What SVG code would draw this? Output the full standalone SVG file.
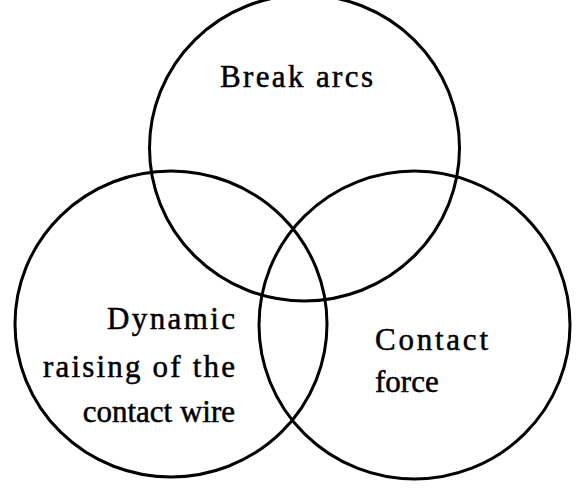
<svg xmlns="http://www.w3.org/2000/svg" width="580" height="496" viewBox="0 0 580 496">
<style>
.c{fill:none;stroke:#000;stroke-width:3}
.t{font-family:"Liberation Serif","Times New Roman",serif;font-size:31px;fill:#000;stroke:#000;stroke-width:0.5}
</style>
<rect width="580" height="496" fill="#fff"/>
<g id="break-arcs">
<ellipse class="c" cx="304.5" cy="148" rx="155" ry="153"/>
<text class="t" x="220" y="87" textLength="153" lengthAdjust="spacing">Break arcs</text>
</g>
<g id="dynamic-raising">
<ellipse class="c" cx="171" cy="324" rx="156" ry="153"/>
<text class="t" x="107" y="329" textLength="128" lengthAdjust="spacing">Dynamic</text>
<text class="t" x="43" y="377" textLength="192" lengthAdjust="spacing">raising of the</text>
<text class="t" x="235" y="422" text-anchor="end">contact wire</text>
</g>
<g id="contact-force">
<ellipse class="c" cx="414.5" cy="325" rx="155.5" ry="154"/>
<text class="t" x="375" y="350" textLength="113" lengthAdjust="spacing">Contact</text>
<text class="t" x="375" y="392">force</text>
</g>
<g id="connectors"/>
</svg>
